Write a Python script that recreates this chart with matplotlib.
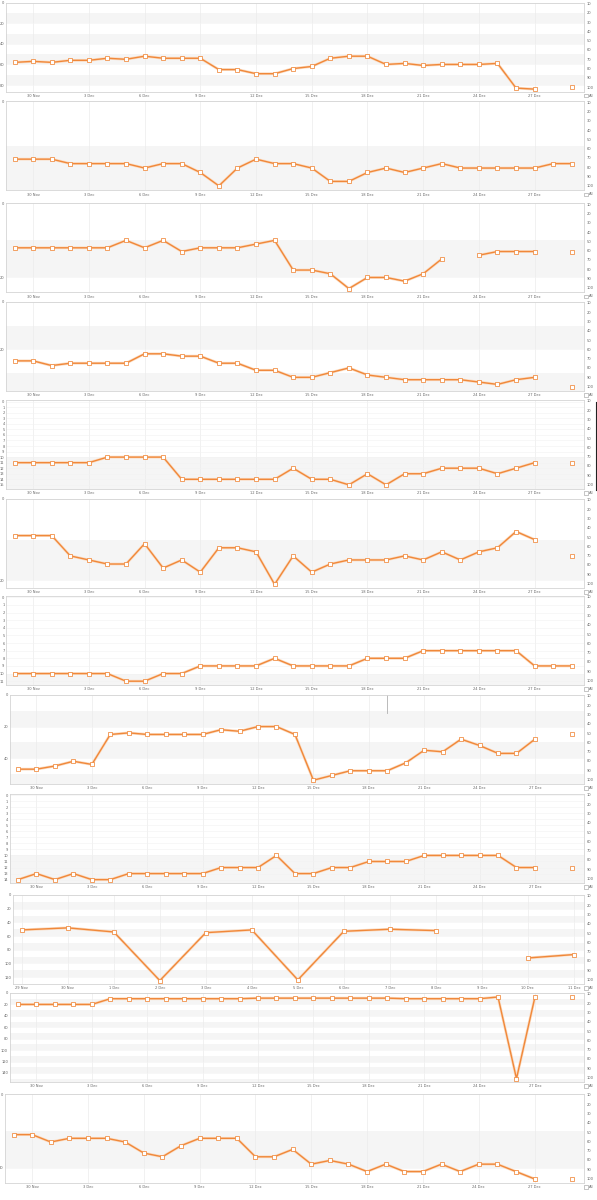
import datetime as dt
import numpy as np
import matplotlib
matplotlib.use('Agg')
import matplotlib.pyplot as plt
from matplotlib.patches import Rectangle
from matplotlib.lines import Line2D

nan = np.nan

# dates on the x axis: 29 Nov .. 29 Dec (panel 10 only to 11 Dec)
days = [dt.date(2012, 11, 29) + dt.timedelta(d) for d in range(31)]
days_short = days[:13]

# daily rank per keyword (left axis)
rank_1 = [58, 57, 58, 56, 56, 54, 55, 52, 54, 54, 54, 65, 65, 69, 69, 64,
          62, 54, 52, 52, 60, 59, 61, 60, 60, 60, 59, 83, 84, nan, 82]
rank_2 = [13, 13, 13, 14, 14, 14, 14, 15, 14, 14, 16, 19, 15, 13, 14, 14,
          15, 18, 18, 16, 15, 16, 15, 14, 15, 15, 15, 15, 15, 14, 14]
rank_3 = [12, 12, 12, 12, 12, 12, 10, 12, 10, 13, 12, 12, 12, 11, 10, 18,
          18, 19, 23, 20, 20, 21, 19, 15, nan, 14, 13, 13, 13, nan, 13]
rank_4 = [25, 25, 27, 26, 26, 26, 26, 22, 22, 23, 23, 26, 26, 29, 29, 32,
          32, 30, 28, 31, 32, 33, 33, 33, 33, 34, 35, 33, 32, nan, 36]
rank_5 = [11, 11, 11, 11, 11, 10, 10, 10, 10, 14, 14, 14, 14, 14, 14, 12,
          14, 14, 15, 13, 15, 13, 13, 12, 12, 12, 13, 12, 11, nan, 11]
rank_6 = [9, 9, 9, 14, 15, 16, 16, 11, 17, 15, 18, 12, 12, 13, 21, 14,
          18, 16, 15, 15, 15, 14, 15, 13, 15, 13, 12, 8, 10, nan, 14]
rank_7 = [10, 10, 10, 10, 10, 10, 11, 11, 10, 10, 9, 9, 9, 9, 8, 9,
          9, 9, 9, 8, 8, 8, 7, 7, 7, 7, 7, 7, 9, 9, 9]
rank_8 = [47, 47, 45, 42, 44, 25, 24, 25, 25, 25, 25, 22, 23, 20, 20, 25,
          54, 51, 48, 48, 48, 43, 35, 36, 28, 32, 37, 37, 28, nan, 25]
rank_9 = [14, 13, 14, 13, 14, 14, 13, 13, 13, 13, 13, 12, 12, 12, 10, 13,
          13, 12, 12, 11, 11, 11, 10, 10, 10, 10, 10, 12, 12, nan, 12]
rank_10 = [51, 48, 54, 125, 55, 51, 124, 53, 50, 52, nan, 92, 87]
rank_11 = [20, 20, 20, 20, 20, 10, 10, 10, 10, 10, 10, 10, 10, 9, 9, 9,
           9, 9, 9, 9, 9, 10, 10, 10, 10, 10, 7, 150, 7, nan, 7]
rank_12 = [11, 11, 13, 12, 12, 12, 13, 16, 17, 14, 12, 12, 12, 17, 17, 15,
           19, 18, 19, 21, 19, 21, 21, 19, 21, 19, 19, 21, 23, nan, 23]

left_ticks = [
    [0, 20, 40, 60, 80],
    [0],
    [0, 20],
    [0, 20],
    list(range(16)),
    [0, 20],
    list(range(12)),
    [0, 20, 40],
    list(range(15)),
    [0, 20, 40, 60, 80, 100, 120],
    [0, 20, 40, 60, 80, 100, 120, 140],
    [0, 20],
]
right_ticks = [10, 20, 30, 40, 50, 60, 70, 80, 90, 100]

ranks = [rank_1, rank_2, rank_3, rank_4, rank_5, rank_6,
         rank_7, rank_8, rank_9, rank_10, rank_11, rank_12]

# layout (pixels) and left axis extent (bottom, top) of each panel
W, H = 597, 1200
PLOT_H = 89
RIGHT = 583.5
tops = [2.7, 101.3, 203.3, 302, 400, 499, 596, 695, 794, 895, 993, 1094]
lefts = [6, 6, 6, 6, 6, 6, 6, 9.5, 9.5, 12.6, 9.5, 5]
ylims = [(86.5, 0), (20, 0), (24, 0), (37.8, 0), (15.75, -0.3), (21.9, 0),
         (11.5, -0.17), (56.4, 0), (14.56, -0.17), (130, 0), (155.8, 0),
         (24.1, 0)]

LINE = '#f0883a'
HALO = '#fbdcc2'
TXT = '#666666'
FS = 2.6

fig = plt.figure(figsize=(W / 100, H / 100), dpi=100)
fig.patch.set_facecolor('white')

for i, vals in enumerate(ranks):
    top, left = tops[i], lefts[i]
    ax = fig.add_axes([left / W, 1 - (top + PLOT_H) / H,
                       (RIGHT - left) / W, PLOT_H / H])
    x = days_short if i == 9 else days
    xn = matplotlib.dates.date2num(x)
    if i == 9:
        ax.set_xlim(xn[0] - 0.2, xn[0] + 12.21)
        xt = x
    else:
        ax.set_xlim(xn[0] - 0.46, xn[0] + 30.63)
        xt = x[1:29:3]
    ybot, ytop = ylims[i]
    ax.set_ylim(ybot, ytop)

    # alternating bands 10-20, 30-40, ...
    k = 10
    while k < ybot:
        ax.axhspan(k, k + 10, color='#f5f5f5', lw=0, zorder=0)
        k += 20

    ax.set_xticks(matplotlib.dates.date2num(xt))
    ax.set_xticklabels([f"{d.day} {d.strftime('%b')}" for d in xt])
    ax.set_yticks(left_ticks[i])
    ax.set_yticklabels([str(t) for t in left_ticks[i]])
    ax.grid(axis='x', color='#ebebeb', lw=0.5)
    ax.grid(axis='y', color='#f2f2f2', lw=0.4)
    ax.set_axisbelow(True)
    ax.tick_params(axis='x', length=0, pad=1.6, labelsize=FS, labelcolor=TXT)
    ax.tick_params(axis='y', length=0, pad=1.0, labelsize=FS, labelcolor=TXT)
    for s in ax.spines.values():
        s.set_color('#d4d4d4')
        s.set_linewidth(0.6)

    ax.plot(xn, vals, color=HALO, lw=2.0, zorder=2, solid_capstyle='round')
    ax.plot(xn, vals, color=LINE, lw=1.0, zorder=3, marker='s', ms=2.5,
            mfc='white', mec=LINE, mew=0.55)

    tw = ax.twinx()
    tw.set_ylim(105, 9)
    tw.set_yticks(right_ticks)
    tw.set_yticklabels([str(t) for t in right_ticks])
    tw.tick_params(axis='y', length=0, pad=2.4, labelsize=FS, labelcolor=TXT)
    for s in tw.spines.values():
        s.set_visible(False)

    # "All" checkbox below the right axis
    yb = top + PLOT_H + 4
    fig.patches.append(Rectangle((584 / W, 1 - (yb + 1.6) / H), 3.5 / W, 3.2 / H,
                                 transform=fig.transFigure, fill=False,
                                 ec='#999999', lw=0.4))
    fig.text(588.5 / W, 1 - yb / H, 'All', fontsize=FS, color=TXT,
             va='center', ha='left')

    if i == 7:
        ax.axvline(matplotlib.dates.date2num(days[20]), ymin=0.8, ymax=1,
                   color='#b0b0b0', lw=0.6, zorder=1)

# dark edge bar next to panel 5
fig.lines.append(Line2D([596 / W, 596 / W], [1 - 402 / H, 1 - 490 / H],
                        transform=fig.transFigure, color='#222222', lw=0.8))

fig.savefig('out.png', dpi=100, facecolor='white')
